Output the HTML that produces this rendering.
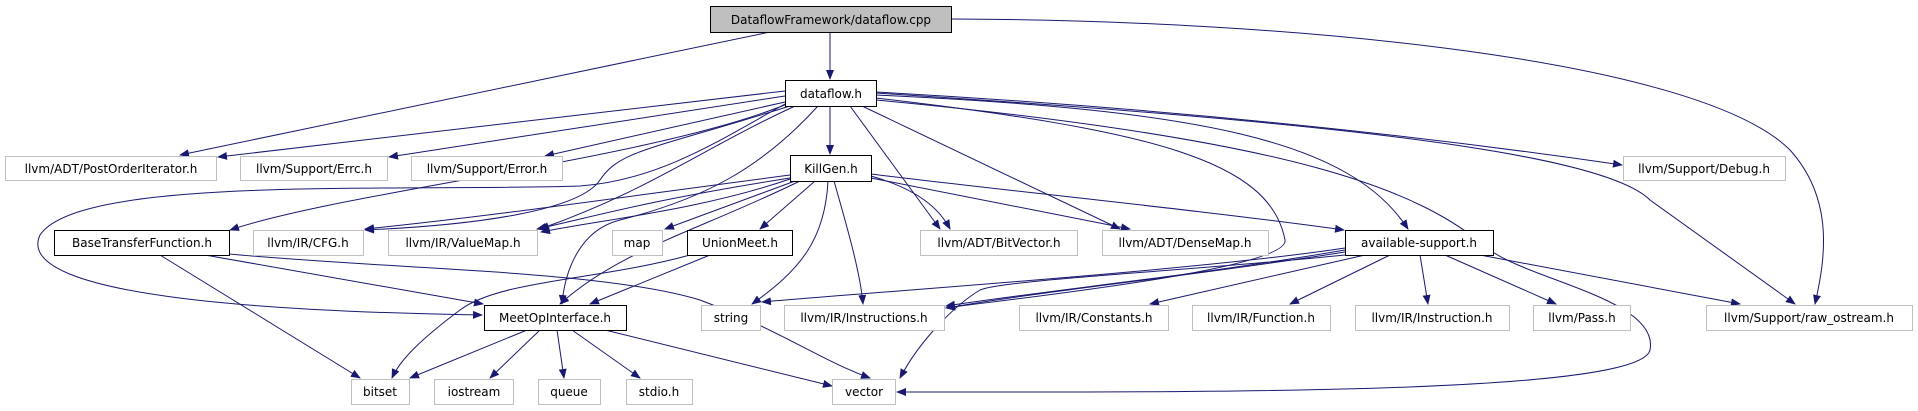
<!DOCTYPE html>
<html><head><meta charset="utf-8"><style>
html,body{margin:0;padding:0;background:#fff;width:1918px;height:411px;overflow:hidden}
svg text{font-family:"DejaVu Sans","Liberation Sans",sans-serif;font-size:12px;fill:#000}
</style></head><body>
<svg width="1918" height="411" viewBox="0 0 1918 411" xmlns="http://www.w3.org/2000/svg">
<defs><marker id="a" markerWidth="10" markerHeight="8" refX="9" refY="4" orient="auto" markerUnits="userSpaceOnUse"><path d="M0,0 L10,4 L0,8 Z" fill="#191970"/></marker></defs>
<g fill="none" stroke="#191970" stroke-width="1" marker-end="url(#a)">
<!-- cpp -->
<path d="M830,32 L830,79"/>
<path d="M770,32 L180,155"/>
<path d="M951,19 C1300,20 1700,60 1790,150 C1835,200 1825,260 1815,304"/>
<!-- dataflow.h -->
<path d="M785,91 L218,157"/>
<path d="M785,96 L389,157"/>
<path d="M785,102 L545,156"/>
<path d="M830,106 L830,154"/>
<path d="M876,92 C1200,110 1450,140 1622,165"/>
<path d="M787,104 C650,160 350,190 230,230"/>
<path d="M790,106 C650,150 620,150 600,180 C580,210 480,225 365,230"/>
<path d="M795,106 C700,150 650,190 540,229"/>
<path d="M785,104 C720,140 660,180 580,186 C400,192 80,175 40,235 C10,300 300,312 482,315"/>
<path d="M818,106 C760,170 700,200 620,220 C580,230 565,270 562,304"/>
<path d="M850,106 L940,229"/>
<path d="M862,106 L1120,229"/>
<path d="M876,95 C1200,110 1350,140 1408,229"/>
<path d="M876,98 C1150,130 1270,160 1285,240 C1290,270 1000,300 946,308"/>
<path d="M876,100 C1300,140 1420,190 1490,250 C1530,280 1660,300 1650,350 C1640,395 1200,392 897,392"/>
<path d="M876,93 C1300,120 1600,150 1650,200 L1795,304"/>
<!-- KillGen -->
<path d="M790,175 C600,200 500,215 365,229"/>
<path d="M790,178 C650,200 600,215 537,229"/>
<path d="M790,179 C700,210 600,220 541,232"/>
<path d="M795,181 L665,229"/>
<path d="M815,181 L760,229"/>
<path d="M800,181 C700,230 620,250 560,304"/>
<path d="M828,181 C825,240 800,270 752,304"/>
<path d="M834,181 C845,220 860,270 863,304"/>
<path d="M871,176 C920,190 940,210 950,229"/>
<path d="M871,178 L1130,229"/>
<path d="M871,174 C1000,190 1200,210 1344,230"/>
<!-- avail -->
<path d="M1345,248 C1200,270 900,290 762,302"/>
<path d="M1345,250 C1200,275 1050,290 946,306"/>
<path d="M1345,252 C1200,275 1050,290 946,308"/>
<path d="M1345,255 C1200,270 1000,280 980,290 C955,305 920,340 900,378"/>
<path d="M1365,255 L1150,304"/>
<path d="M1390,255 L1290,304"/>
<path d="M1420,255 L1428,304"/>
<path d="M1445,255 L1556,304"/>
<path d="M1480,255 L1740,304"/>
<!-- BaseTF -->
<path d="M160,255 L360,378"/>
<path d="M205,255 L483,304"/>
<path d="M229,254 C400,270 600,270 700,300 C780,330 820,360 870,378"/>
<!-- UnionMeet -->
<path d="M690,255 C600,280 500,280 460,310 C420,340 400,360 392,378"/>
<path d="M710,255 L590,304"/>
<!-- MeetOp -->
<path d="M527,330 L410,378"/>
<path d="M540,330 L490,378"/>
<path d="M557,330 L564,378"/>
<path d="M572,330 L640,378"/>
<path d="M605,330 L832,386"/>
</g>
<g stroke-width="1">
<rect x="710.5" y="6.5" width="241" height="26" fill="#bfbfbf" stroke="#000"/>
<rect x="785.5" y="80.5" width="91" height="26" fill="#fff" stroke="#000"/>
<rect x="790.5" y="155.5" width="81" height="26" fill="#fff" stroke="#000"/>
<rect x="54.5" y="230.5" width="175" height="25" fill="#fff" stroke="#000"/>
<rect x="687.5" y="230.5" width="105" height="25" fill="#fff" stroke="#000"/>
<rect x="1345.5" y="230.5" width="148" height="25" fill="#fff" stroke="#000"/>
<rect x="484.5" y="305.5" width="142" height="25" fill="#fff" stroke="#000"/>
<g fill="#fff" stroke="#bfbfbf">
<rect x="5.5" y="156.5" width="211" height="24"/>
<rect x="240.5" y="156.5" width="147" height="24"/>
<rect x="411.5" y="156.5" width="151" height="24"/>
<rect x="1623.5" y="156.5" width="162" height="24"/>
<rect x="253.5" y="230.5" width="110" height="25"/>
<rect x="388.5" y="230.5" width="149" height="25"/>
<rect x="612.5" y="230.5" width="50" height="25"/>
<rect x="920.5" y="230.5" width="157" height="25"/>
<rect x="1102.5" y="230.5" width="166" height="25"/>
<rect x="701.5" y="305.5" width="59" height="25"/>
<rect x="784.5" y="305.5" width="160" height="25"/>
<rect x="1019.5" y="305.5" width="149" height="25"/>
<rect x="1192.5" y="305.5" width="138" height="25"/>
<rect x="1355.5" y="305.5" width="154" height="25"/>
<rect x="1533.5" y="305.5" width="97" height="25"/>
<rect x="1706.5" y="305.5" width="206" height="25"/>
<rect x="351.5" y="379.5" width="58" height="25"/>
<rect x="434.5" y="379.5" width="79" height="25"/>
<rect x="538.5" y="379.5" width="62" height="25"/>
<rect x="626.5" y="379.5" width="66" height="25"/>
<rect x="832.5" y="379.5" width="63" height="25"/>
</g></g>
<g text-anchor="middle">
<text x="831" y="24">DataflowFramework/dataflow.cpp</text>
<text x="831" y="98">dataflow.h</text>
<text x="831" y="173">KillGen.h</text>
<text x="111" y="173">llvm/ADT/PostOrderIterator.h</text>
<text x="314" y="173">llvm/Support/Errc.h</text>
<text x="487" y="173">llvm/Support/Error.h</text>
<text x="1704" y="173">llvm/Support/Debug.h</text>
<text x="142" y="247">BaseTransferFunction.h</text>
<text x="308" y="247">llvm/IR/CFG.h</text>
<text x="463" y="247">llvm/IR/ValueMap.h</text>
<text x="637" y="247">map</text>
<text x="740" y="247">UnionMeet.h</text>
<text x="999" y="247">llvm/ADT/BitVector.h</text>
<text x="1185" y="247">llvm/ADT/DenseMap.h</text>
<text x="1419" y="247">available-support.h</text>
<text x="555" y="322">MeetOpInterface.h</text>
<text x="731" y="322">string</text>
<text x="864" y="322">llvm/IR/Instructions.h</text>
<text x="1094" y="322">llvm/IR/Constants.h</text>
<text x="1261" y="322">llvm/IR/Function.h</text>
<text x="1432" y="322">llvm/IR/Instruction.h</text>
<text x="1582" y="322">llvm/Pass.h</text>
<text x="1809" y="322">llvm/Support/raw_ostream.h</text>
<text x="380" y="396">bitset</text>
<text x="474" y="396">iostream</text>
<text x="569" y="396">queue</text>
<text x="659" y="396">stdio.h</text>
<text x="864" y="396">vector</text>
</g>
</svg>
</body></html>
